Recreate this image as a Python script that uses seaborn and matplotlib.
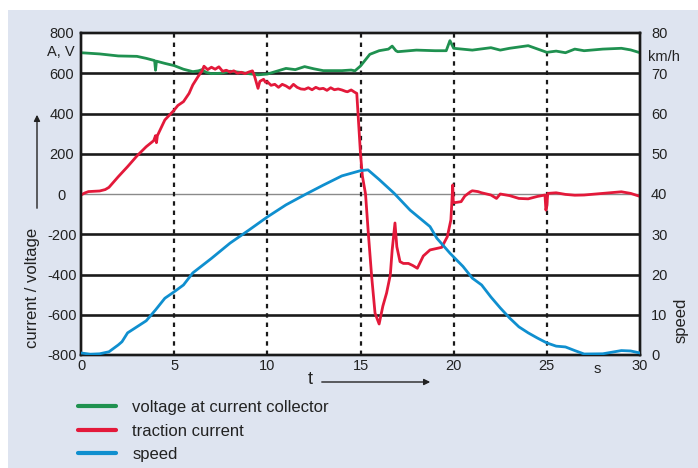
import numpy as np
import pandas as pd
import matplotlib
matplotlib.use("Agg")
import matplotlib.pyplot as plt
from matplotlib.patches import Rectangle
from matplotlib.lines import Line2D
import seaborn as sns

volt_t = [0, 1, 2, 3, 3.5, 3.95, 4.0, 4.05, 4.5, 5, 5.5, 6, 6.3, 6.5, 6.7, 7, 7.5, 8, 8.5, 9,
          9.5, 10, 10.5, 11, 11.5, 12, 12.5, 13, 14, 14.5, 14.7, 15, 15.5, 16, 16.5, 16.7, 16.9,
          17, 18, 19, 19.6, 19.8, 20, 21, 22, 22.5, 23, 24, 25, 25.5, 26, 26.5, 27, 28, 29, 29.5, 30]
volt_v = [702, 696, 686, 684, 674, 663, 615, 660, 649, 638, 620, 608, 612, 618, 605, 598, 600, 610, 605, 598,
          592, 596, 610, 624, 618, 633, 622, 613, 613, 616, 612, 636, 694, 712, 720, 735, 712,
          707, 715, 712, 712, 762, 724, 715, 727, 715, 724, 737, 704, 710, 702, 720, 712, 720, 724, 716, 702]

curr_t = [0, 0.2, 0.4, 1.0, 1.3, 1.5, 2.0, 2.5, 3.0, 3.5, 3.9, 4.0, 4.05, 4.1, 4.5, 5.0, 5.2, 5.5, 5.8,
          6.0, 6.3, 6.5, 6.6, 6.8, 7.0, 7.2, 7.4, 7.6, 7.8, 8.0, 8.2, 8.4, 8.6, 8.8, 9.0, 9.2, 9.3,
          9.5, 9.6, 9.8, 9.9, 10.0, 10.2, 10.4, 10.6, 10.8, 11.0, 11.2, 11.4, 11.6, 11.8, 12.0, 12.2,
          12.4, 12.6, 12.8, 13.0, 13.2, 13.4, 13.6, 13.8, 14.0, 14.2, 14.3, 14.5, 14.7, 14.8, 14.9,
          15.0, 15.1, 15.27, 15.42, 15.6, 15.78, 16.0, 16.2, 16.4, 16.6, 16.7, 16.85, 16.95, 17.12,
          17.3, 17.57, 17.8, 18.05, 18.37, 18.73, 19.36, 19.66, 19.85, 19.91, 19.95, 19.98, 20.05,
          20.4, 20.6, 20.9, 21.0, 21.3, 21.5, 22.0, 22.3, 22.5, 23.0, 23.5, 24.0, 24.5, 24.9, 24.95,
          25.0, 25.05, 25.5, 26.0, 26.5, 27.0, 28.0, 29.0, 29.5, 30.0]
curr_v = [-5, 5, 12, 15, 22, 33, 86, 136, 189, 235, 265, 290, 255, 290, 368, 417, 440, 459, 500,
          542, 586, 612, 635, 618, 630, 620, 632, 610, 615, 606, 612, 600, 605, 598, 606, 612, 590,
          525, 560, 570, 555, 558, 540, 545, 530, 545, 537, 525, 545, 530, 522, 520, 528,
          518, 530, 522, 525, 515, 528, 518, 522, 517, 510, 508, 517, 505, 500, 350,
          200, 90, 0, -195, -411, -592, -646, -557, -492, -402, -278, -144, -262, -336,
          -345, -345, -355, -369, -308, -278, -265, -212, -129, -30, 45, -40, -43,
          -38, -10, 11, 16, 12, 6, -5, -22, 0, -8, -22, -24, -12, -5, -80,
          -60, 3, 6, -2, -6, -5, 3, 11, 3, -12]

speed_t = [0, 0.5, 1.0, 1.5, 2.0, 2.2, 2.5, 3.0, 3.5, 4.0, 4.5, 5.0, 5.5, 6.0, 7.0, 8.0, 9.0, 10.0,
           11.0, 12.0, 13.0, 14.0, 15.0, 15.4, 16.0, 16.8, 17.66, 18.73, 19.1, 19.8, 20.5, 21.0,
           21.5, 22.0, 22.5, 23.0, 23.5, 24.0, 24.5, 25.0, 25.5, 26.0, 26.5, 27.0, 28.0, 28.5,
           29.0, 29.5, 30.0]
speed_v = [0.5, 0.2, 0.3, 0.8, 2.5, 3.3, 5.5, 7.0, 8.5, 11.2, 14.1, 15.7, 17.4, 20.4, 24.0, 27.8, 31.0, 34.3,
           37.3, 39.8, 42.2, 44.5, 45.8, 46.0, 43.6, 40.2, 36.0, 31.9, 29.0, 25.3, 22.0, 19.1,
           17.4, 14.4, 11.7, 9.2, 7.0, 5.5, 4.2, 3.0, 2.2, 2.0, 1.1, 0.25, 0.3, 0.7,
           1.1, 1.0, 0.5]

left_ticks = [-800, -600, -400, -200, 0, 200, 400, 600, 800]
right_ticks = [0, 10, 20, 30, 40, 50, 60, 70, 80]
t_ticks = [0, 5, 10, 15, 20, 25, 30]
labels = ["voltage at current collector", "traction current", "speed"]

GREEN = "#1f9150"
RED = "#e3193a"
BLUE = "#0f8fcf"
INK = "#222222"

sns.set_style("white")
plt.rcParams["font.family"] = ["Liberation Sans", "DejaVu Sans"]
plt.rcParams["font.size"] = 10.5
plt.rcParams["axes.unicode_minus"] = False

fig = plt.figure(figsize=(6.98, 4.68), dpi=100)
fig.patch.set_facecolor("white")
fig.patches.append(Rectangle((8 / 698, 0), 1, 1 - 10 / 468, transform=fig.transFigure,
                             facecolor="#dee4f0", edgecolor="none", zorder=-10))

ax = fig.add_axes([81 / 698, 1 - 355 / 468, 559 / 698, 322 / 468])
ax.set_facecolor("white")
ax2 = ax.twinx()

volt = pd.DataFrame({"t": volt_t, "v": volt_v})
curr = pd.DataFrame({"t": curr_t, "v": curr_v})
speed = pd.DataFrame({"t": speed_t, "v": speed_v})

# gitter
for y in left_ticks[1:-1]:
    if y == 0:
        ax.axhline(y, color="#8a8a8a", lw=1.0, zorder=1)
    else:
        ax.axhline(y, color="#1a1a1a", lw=1.9, zorder=1)
for x in t_ticks[1:-1]:
    ax.axvline(x, color="#1a1a1a", lw=1.6, ls=(0, (2, 2.2)), zorder=1)

sns.lineplot(data=volt, x="t", y="v", ax=ax, color=GREEN, lw=2, zorder=3)
sns.lineplot(data=curr, x="t", y="v", ax=ax, color=RED, lw=2, zorder=4)
sns.lineplot(data=speed, x="t", y="v", ax=ax2, color=BLUE, lw=2, zorder=3)

ax.set_xlim(0, 30)
ax.set_ylim(-800, 800)
ax2.set_ylim(0, 80)
ax.set_xticks(t_ticks)
ax.set_yticks(left_ticks)
ax2.set_yticks(right_ticks)
ax.set_xlabel("")
ax.set_ylabel("")
ax2.set_ylabel("")
ax.tick_params(axis="both", length=0, labelsize=10.5, colors=INK)
ax.tick_params(axis="y", pad=13.7)
ax.tick_params(axis="x", pad=3)
for lab in ax.get_yticklabels():
    lab.set_horizontalalignment("center")
ax2.tick_params(axis="y", length=0, labelsize=10.5, colors=INK, pad=8)
for a in (ax, ax2):
    for s in a.spines.values():
        s.set_color("#1a1a1a")
        s.set_linewidth(1.7)
        s.set_visible(True)

# Einheiten
ax.text(-0.012, 708, "A, V", transform=ax.get_yaxis_transform(), ha="right", va="center",
        fontsize=10.5, color=INK)
ax2.text(1.014, 74, "km/h", transform=ax2.get_yaxis_transform(), ha="left", va="center",
         fontsize=10.5, color=INK)
ax.text(27.7, -0.022, "s", transform=ax.get_xaxis_transform(), ha="center", va="top",
        fontsize=10.5, color=INK)

# Achsenbeschriftungen mit Pfeilen
fig.text(33 / 698, 1 - 288 / 468, "current / voltage", rotation=90, ha="center", va="center",
         fontsize=12, color=INK)
fig.text(681 / 698, 1 - 320 / 468, "speed", rotation=90, ha="center", va="center",
         fontsize=12, color=INK)
fig.text(310 / 698, 1 - 380 / 468, "t", ha="center", va="center", fontsize=13, color=INK)
ax.annotate("", xy=(37 / 698, 1 - 112 / 468), xytext=(37 / 698, 1 - 211 / 468),
            xycoords="figure fraction",
            arrowprops=dict(arrowstyle="-|>", color=INK, lw=1.0, mutation_scale=9))
ax.annotate("", xy=(433 / 698, 1 - 382 / 468), xytext=(319 / 698, 1 - 382 / 468),
            xycoords="figure fraction",
            arrowprops=dict(arrowstyle="-|>", color=INK, lw=1.0, mutation_scale=9))

handles = [Line2D([], [], color=c, lw=3) for c in (GREEN, RED, BLUE)]
fig.legend(handles, labels, loc="upper left", bbox_to_anchor=(63 / 698, 1 - 385 / 468),
           frameon=False, fontsize=12, handlelength=2.3, handletextpad=0.96, labelspacing=0.51,
           labelcolor=INK)

fig.savefig("out.png", dpi=100, facecolor=fig.get_facecolor())
